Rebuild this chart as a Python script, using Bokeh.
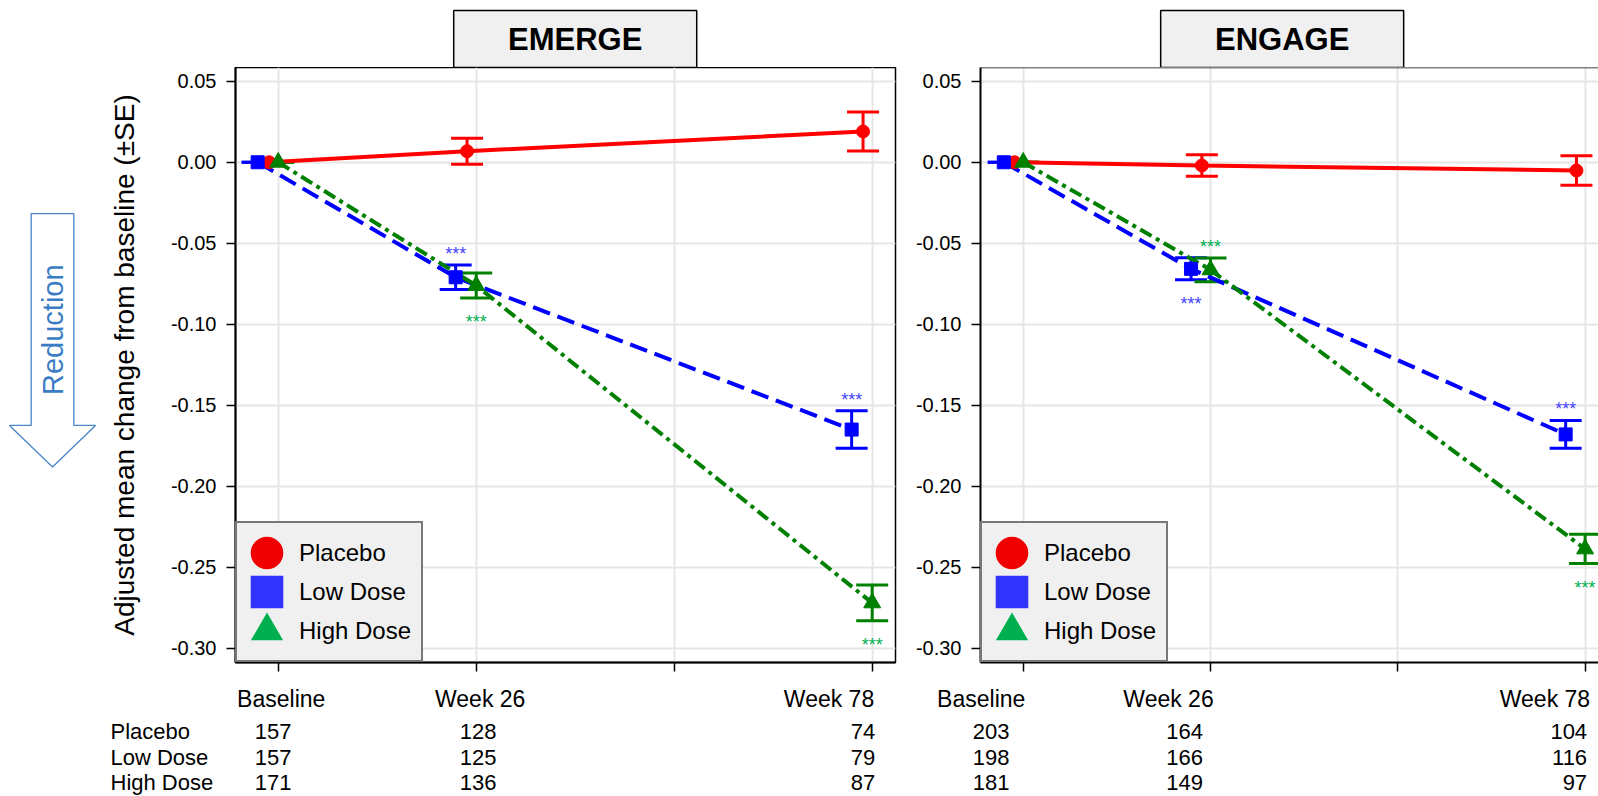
import numpy as np
from bokeh.plotting import figure
from bokeh.models import (Range1d, FixedTicker, NumeralTickFormatter, Whisker, TeeHead,
                          ColumnDataSource, Legend, LegendItem, Span)
from bokeh.layouts import row, column
from bokeh.core.properties import value
from bokeh.embed import file_html
from bokeh.resources import INLINE

# ---------------- data ----------------
GROUPS = ["Placebo", "Low Dose", "High Dose"]
WEEKS = [0, 26, 78]
VISIT_LABELS = ["Baseline", "Week 26", "Week 78"]
X_TICKS = [0, 26, 52, 78]
Y_TICKS = [-0.30, -0.25, -0.20, -0.15, -0.10, -0.05, 0.00, 0.05]
Y_LABEL = "Adjusted mean change from baseline (±SE)"
ARROW_TEXT = "Reduction"
STAR_TEXT = "***"

EMERGE_PLACEBO = [0.0, 0.0068, 0.0190]
EMERGE_PLACEBO_SE = [0.0, 0.0080, 0.0120]
EMERGE_LOW = [0.0, -0.0710, -0.1650]
EMERGE_LOW_SE = [0.0, 0.0076, 0.0116]
EMERGE_HIGH = [0.0, -0.0761, -0.2720]
EMERGE_HIGH_SE = [0.0, 0.0077, 0.0111]

ENGAGE_PLACEBO = [0.0, -0.0020, -0.0051]
ENGAGE_PLACEBO_SE = [0.0, 0.0067, 0.0091]
ENGAGE_LOW = [0.0, -0.0658, -0.1680]
ENGAGE_LOW_SE = [0.0, 0.0068, 0.0086]
ENGAGE_HIGH = [0.0, -0.0664, -0.2387]
ENGAGE_HIGH_SE = [0.0, 0.0073, 0.0090]

# significance flags (*** shown above / below the error bar)
EMERGE_PLACEBO_SIG = ["", "", ""]
EMERGE_LOW_SIG = ["", "above", "above"]
EMERGE_HIGH_SIG = ["", "below", "below"]
ENGAGE_PLACEBO_SIG = ["", "", ""]
ENGAGE_LOW_SIG = ["", "below", "above"]
ENGAGE_HIGH_SIG = ["", "above", "below"]

EMERGE_N_PLACEBO = [157, 128, 74]
EMERGE_N_LOW = [157, 125, 79]
EMERGE_N_HIGH = [171, 136, 87]
ENGAGE_N_PLACEBO = [203, 164, 104]
ENGAGE_N_LOW = [198, 166, 116]
ENGAGE_N_HIGH = [181, 149, 97]

STUDIES = [
    ("EMERGE",
     {"Placebo": EMERGE_PLACEBO, "Low Dose": EMERGE_LOW, "High Dose": EMERGE_HIGH},
     {"Placebo": EMERGE_PLACEBO_SE, "Low Dose": EMERGE_LOW_SE, "High Dose": EMERGE_HIGH_SE},
     {"Placebo": EMERGE_PLACEBO_SIG, "Low Dose": EMERGE_LOW_SIG, "High Dose": EMERGE_HIGH_SIG},
     {"Placebo": EMERGE_N_PLACEBO, "Low Dose": EMERGE_N_LOW, "High Dose": EMERGE_N_HIGH}),
    ("ENGAGE",
     {"Placebo": ENGAGE_PLACEBO, "Low Dose": ENGAGE_LOW, "High Dose": ENGAGE_HIGH},
     {"Placebo": ENGAGE_PLACEBO_SE, "Low Dose": ENGAGE_LOW_SE, "High Dose": ENGAGE_HIGH_SE},
     {"Placebo": ENGAGE_PLACEBO_SIG, "Low Dose": ENGAGE_LOW_SIG, "High Dose": ENGAGE_HIGH_SIG},
     {"Placebo": ENGAGE_N_PLACEBO, "Low Dose": ENGAGE_N_LOW, "High Dose": ENGAGE_N_HIGH}),
]

# ---------------- style ----------------
FONT = "Liberation Sans"
LINE_COLORS = {"Placebo": "#ff0000", "Low Dose": "#0000ff", "High Dose": "#008000"}
LEGEND_COLORS = {"Placebo": "#f00000", "Low Dose": "#3333ff", "High Dose": "#00b050"}
STAR_COLORS = {"Placebo": "#ff0000", "Low Dose": "#4444ff", "High Dose": "#00b050"}
MARKERS = {"Placebo": "circle", "Low Dose": "square", "High Dose": "triangle"}
MARKER_SIZE = {"Placebo": 13, "Low Dose": 13, "High Dose": 17}
DASHES = {"Placebo": "solid", "Low Dose": "18 8", "High Dose": "13 5 4 5"}
DODGE = {"Placebo": -1.2, "Low Dose": -2.7, "High Dose": 0.0}
LEGEND_LW = {"Placebo": 17, "Low Dose": 17, "High Dose": 9.6}
STAR_DY = {"above": -11, "below": 24}

TITLE_H, PANEL_H, TAB_H = 67, 615, 114
BORDER_BOTTOM = 20
W_ARROW = 100
PANELS = [
    dict(width=800, bl=135, br=5, xr=(-5.61, 81.06), title_dx=0, outline=True,
         tab_left=232, tab_width=668,
         hdr_align=["center", "center", "right"], hdr_dx=[3, 4, 2],
         cnt_align=["center", "center", "right"], cnt_dx=[-5, 2, 3]),
    dict(width=698, bl=80, br=0, xr=(-5.93, 79.86), title_dx=-22, outline=False,
         tab_left=900, tab_width=698,
         hdr_align=["center", "center", "right"], hdr_dx=[-42, -42, 5],
         cnt_align=["center", "center", "right"], cnt_dx=[-32, -26, 2]),
]
YR = (-0.3088, 0.0585)
TAB_YR = (3.549, -0.9216)
HEADER_Y = -0.294
ROWLAB_X = 110
TITLE_BOX = dict(w=243, h=57, cy=38.5)


def bare(width, height, xr, yr, bl=0, br=0):
    f = figure(width=width, height=height, x_range=Range1d(*xr), y_range=Range1d(*yr),
               toolbar_location=None, output_backend="svg", x_axis_type=None, y_axis_type=None,
               min_border_left=bl, min_border_right=br, min_border_top=0, min_border_bottom=0)
    f.grid.visible = False
    f.outline_line_color = None
    f.background_fill_color = "white"
    f.border_fill_color = "white"
    return f


def panel_left_px(idx):
    return (W_ARROW if idx == 0 else W_ARROW + PANELS[0]["width"])


def make_title(idx, study):
    name = study[0]
    cfg = PANELS[idx]
    width = cfg["width"] + (W_ARROW if idx == 0 else 0)
    bl = cfg["bl"] + (W_ARROW if idx == 0 else 0)
    t = bare(width, TITLE_H, cfg["xr"], (TITLE_H, 0), bl=bl, br=cfg["br"])
    ppw = (cfg["width"] - cfg["bl"] - cfg["br"]) / (cfg["xr"][1] - cfg["xr"][0])
    cx = (WEEKS[0] + WEEKS[-1]) / 2 + cfg["title_dx"] / ppw
    t.rect(x=[cx], y=[TITLE_BOX["cy"]], width=TITLE_BOX["w"], height=TITLE_BOX["h"],
           width_units="screen", height_units="screen",
           fill_color="#f0f0f0", line_color="black", line_width=1.5)
    t.text(x=[cx], y=[TITLE_BOX["cy"]], text=[name],
           text_align="center", text_baseline="middle", text_font=value(FONT),
           text_font_size="31px", text_font_style="bold", text_color="black")
    return t


def make_panel(idx, study):
    name, means, ses, sigs, _ = study
    cfg = PANELS[idx]
    p = figure(width=cfg["width"], height=PANEL_H,
               x_range=Range1d(*cfg["xr"]), y_range=Range1d(*YR),
               toolbar_location=None, output_backend="svg",
               min_border_left=cfg["bl"], min_border_right=cfg["br"],
               min_border_top=0, min_border_bottom=BORDER_BOTTOM)
    p.background_fill_color = "white"
    p.border_fill_color = "white"
    if cfg["outline"]:
        p.outline_line_color = "black"
        p.outline_line_width = 1.5
    else:
        p.outline_line_color = None
        p.add_layout(Span(location=YR[1], dimension="width", line_color="black", line_width=1.5))

    p.xaxis.ticker = FixedTicker(ticks=X_TICKS)
    p.xgrid.ticker = FixedTicker(ticks=X_TICKS)
    p.yaxis.ticker = FixedTicker(ticks=Y_TICKS)
    p.ygrid.ticker = FixedTicker(ticks=Y_TICKS)
    p.yaxis.formatter = NumeralTickFormatter(format="0.00")
    # visit names are written in the table below the axis
    p.xaxis.major_label_text_font_size = "1px"
    p.xaxis.major_label_text_color = None
    p.xaxis.major_label_standoff = 0
    for ax in (p.xaxis[0], p.yaxis[0]):
        ax.major_tick_in = 0
        ax.major_tick_out = 9
        ax.minor_tick_line_color = None
        ax.axis_line_width = 2
        ax.major_tick_line_width = 1.5
        ax.axis_line_color = "black"
        ax.major_tick_line_color = "black"
    p.yaxis.major_label_text_font = FONT
    p.yaxis.major_label_text_font_size = "20px"
    p.yaxis.major_label_text_color = "black"
    p.yaxis.major_label_standoff = 10
    if idx == 0:
        p.yaxis.axis_label = Y_LABEL
        p.yaxis.axis_label_text_font = FONT
        p.yaxis.axis_label_text_font_size = "28px"
        p.yaxis.axis_label_text_font_style = "normal"
        p.yaxis.axis_label_text_color = "black"
        p.yaxis.axis_label_standoff = 28
    p.grid.grid_line_color = "#e6e6e6"
    p.grid.grid_line_width = 2

    weeks = np.array(WEEKS, dtype=float)
    for g in GROUPS:
        m = np.array(means[g])
        s = np.array(ses[g])
        src = ColumnDataSource(dict(x=weeks + DODGE[g], y=m, upper=m + s, lower=m - s))
        col = LINE_COLORS[g]
        p.line("x", "y", source=src, line_color=col, line_width=4, line_dash=DASHES[g])
        p.add_layout(Whisker(source=src, base="x", upper="upper", lower="lower",
                             line_color=col, line_width=3,
                             upper_head=TeeHead(size=32, line_color=col, line_width=3),
                             lower_head=TeeHead(size=32, line_color=col, line_width=3)))
    for g in GROUPS:
        m = np.array(means[g])
        col = LINE_COLORS[g]
        p.scatter(weeks + DODGE[g], m, marker=MARKERS[g], size=MARKER_SIZE[g],
                  fill_color=col, line_color=col)
    # significance stars, placed beyond the end of the error bar
    for g in GROUPS:
        sx, sy, soff = [], [], []
        for i, flag in enumerate(sigs[g]):
            if flag:
                sx.append(WEEKS[i] + DODGE[g])
                sy.append(means[g][i] + (ses[g][i] if flag == "above" else -ses[g][i]))
                soff.append(STAR_DY[flag])
        if sx:
            p.text(x=sx, y=sy, text=[STAR_TEXT] * len(sx), y_offset=soff,
                   text_align="center", text_baseline="middle",
                   text_font=value(FONT), text_font_size="18px",
                   text_color=STAR_COLORS[g])

    # legend
    items = []
    for g in GROUPS:
        r = p.scatter(x=[np.nan], y=[np.nan], marker=MARKERS[g], size=1,
                      fill_color=LEGEND_COLORS[g], line_color=LEGEND_COLORS[g],
                      line_width=LEGEND_LW[g], line_join="miter")
        items.append(LegendItem(label=g, renderers=[r]))
    leg = Legend(items=items, location="bottom_left", margin=0, padding=10, spacing=0,
                 glyph_height=39, glyph_width=39, label_standoff=13,
                 label_text_font=FONT, label_text_font_size="24px", label_text_color="black",
                 background_fill_color="#f0f0f0", background_fill_alpha=1.0,
                 border_line_color="black", border_line_width=2)
    p.add_layout(leg)
    return p


def make_table(idx, study):
    counts = study[4]
    cfg = PANELS[idx]
    frame_left = panel_left_px(idx) + cfg["bl"]
    frame_w = cfg["width"] - cfg["bl"] - cfg["br"]
    ppw = frame_w / (cfg["xr"][1] - cfg["xr"][0])
    x0 = cfg["xr"][0] + (cfg["tab_left"] - frame_left) / ppw
    x1 = x0 + cfg["tab_width"] / ppw
    t = bare(cfg["tab_width"], TAB_H, (x0, x1), TAB_YR)
    t.text(x=WEEKS, y=[HEADER_Y] * 3, text=VISIT_LABELS, x_offset=cfg["hdr_dx"],
           text_align=cfg["hdr_align"], text_baseline="middle",
           text_font=value(FONT), text_font_size="23px", text_color="black")
    for r, g in enumerate(GROUPS):
        t.text(x=WEEKS, y=[r + 1] * 3, text=[str(v) for v in counts[g]], x_offset=cfg["cnt_dx"],
               text_align=cfg["cnt_align"], text_baseline="middle",
               text_font=value(FONT), text_font_size="22px", text_color="black")
    return t


# arrow column (coordinates in page pixels of the panel row)
arrow = bare(W_ARROW, PANEL_H, (0, W_ARROW), (TITLE_H + PANEL_H, TITLE_H))
arrow.patch([30.7, 73.3, 73.3, 95, 52, 9, 30.7], [218, 218, 437, 437, 480, 437, 437],
            fill_color="white", line_color="#4a86c8", line_width=1.3)
arrow.text(x=[52], y=[338], text=[ARROW_TEXT], angle=np.pi / 2, text_align="center",
           text_baseline="middle", text_font=value(FONT), text_font_size="29px",
           text_color="#3b7dc4")

# row-label column
rowlab = bare(PANELS[0]["tab_left"], TAB_H, (0, PANELS[0]["tab_left"]), TAB_YR)
rowlab.text(x=[ROWLAB_X] * 3, y=[1, 2, 3], text=GROUPS, text_align="left", text_baseline="middle",
            text_font=value(FONT), text_font_size="22px", text_color="black")

titles = [make_title(i, s) for i, s in enumerate(STUDIES)]
panels = [make_panel(i, s) for i, s in enumerate(STUDIES)]
tables = [make_table(i, s) for i, s in enumerate(STUDIES)]

layout = column(row(titles[0], titles[1]),
                row(arrow, panels[0], panels[1]),
                row(rowlab, tables[0], tables[1]))
open("out.html", "w").write(file_html(layout, INLINE))
